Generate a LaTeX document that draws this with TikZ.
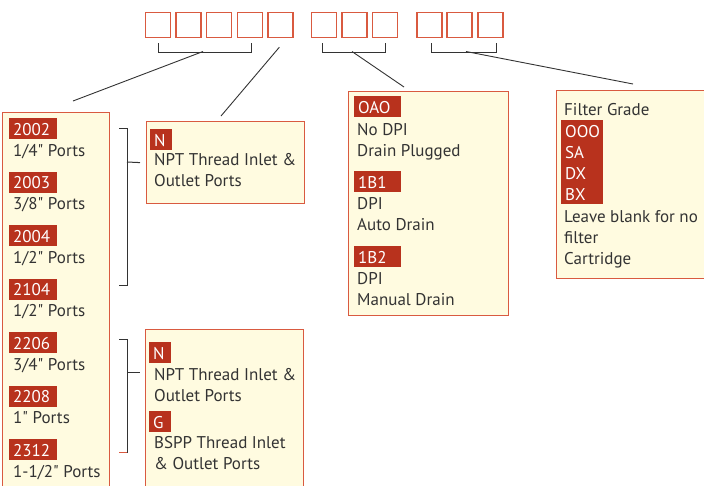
\documentclass[tikz,border=0pt]{standalone}
\usepackage{fontspec}
\newfontfamily\labelfont{PT Sans}
\definecolor{codered}{HTML}{B8321D}
\definecolor{frame}{HTML}{D95A40}
\definecolor{paper}{HTML}{FFFBE0}
\definecolor{ink}{HTML}{333333}

\begin{document}
\begin{tikzpicture}[x=1pt, y=-1pt, font=\labelfont\fontsize{17}{21}\selectfont, text=ink,
        cell/.style={draw=frame, line width=1.3pt, minimum size=25pt, inner sep=0pt},
        panel/.style={draw=frame, fill=paper, line width=1.2pt, anchor=north west, inner sep=0pt},
        code/.style={fill=codered, text=white, anchor=base west, inner xsep=4pt, inner ysep=0pt,
            text height=17pt, text depth=4pt, text width=#1, align=left},
        code/.default=40pt,
        txt/.style={anchor=base west, inner sep=0pt, align=left},
        brace/.style={draw=ink, line width=1pt},
        link/.style={draw=ink, line width=0.9pt}]
    \useasboundingbox (0,0) rectangle (704,485);
    \foreach \x [count=\i] in {158,188.6,219.2,249.8,280.4,324,354.5,385,429.5,459.5,490.5}
        \node[cell] (c\i) at (\x,25) {};
    \draw[brace] ([yshift=-5pt]c1.south) -- ++(0,9) -| ([xshift=2pt,yshift=-5pt]c4.south);
    \draw[brace] ([xshift=-2pt,yshift=-5pt]c6.south) -- ++(0,9) -| ([yshift=-5pt]c8.south);
    \draw[brace] ([xshift=1.5pt,yshift=-5pt]c9.south) -- ++(0,9) -| ([xshift=6pt,yshift=-5pt]c11.south);
    \coordinate (g1) at (203,51.5);
    \coordinate (g2) at (352,51.5);
    \coordinate (g3) at (466,51.5);
    \coordinate (e1) at (73,101);
    \coordinate (e2) at (221,116);
    \coordinate (e3) at (404,87);
    \coordinate (e4) at (633,84);
    \draw[link] (g1) -- (e1);
    \draw[link] ([xshift=-1pt,yshift=-9pt]c5.south) -- (e2);
    \draw[link] (g2) -- (e3);
    \draw[link] (g3) -- (e4);

    \node[panel, minimum width=107pt, minimum height=380pt] (sizes) at (2,112) {};
    \node[panel, minimum width=158pt, minimum height=82pt] (nptA) at (146,121) {};
    \node[panel, minimum width=158pt, minimum height=170pt] (nptB) at (145,329) {};
    \node[panel, minimum width=160pt, minimum height=224pt] (drain) at (348,91) {};
    \node[panel, minimum width=160pt, minimum height=188pt] (filter) at (556,90) {};

    \foreach \c/\t [count=\i] in {2002/{1/4" Ports}, 2003/{3/8" Ports}, 2004/{1/2" Ports},
            2104/{1/2" Ports}, 2206/{3/4" Ports}, 2208/{1" Ports}, 2312/{1-1/2" Ports}} {
        \node[code] (s\i) at (9,81.5+53.5*\i) {\c};
        \node[txt] (p\i) at (13,102.5+53.5*\i) {\t};
    }

    \draw[brace] (119,128) -| (127,285) -- (119,285);
    \draw[brace] (127,162) -- ([xshift=-6pt]nptA.west);
    \draw[brace] (119,339) -| (127,452) -- (119,452);
    \draw[frame, line width=1pt] (119,452) -- (126.5,452);
    \coordinate (t2) at (140,372);
    \draw[brace] (127,372) -- (t2);

    \node[code=14pt] (na) at (150,146) {N};
    \node[txt] (nat) at (154,186) {NPT Thread Inlet \&\\Outlet Ports};
    \node[code=14pt] (nb) at (149,359) {N};
    \node[txt] (nbt) at (154,401) {NPT Thread Inlet \&\\Outlet Ports};
    \node[code=14pt] (gb) at (149,428) {G};
    \node[txt] (gbt) at (154,469) {BSPP Thread Inlet\\\& Outlet Ports};

    \node[code=39pt] (d1) at (354,113) {OAO};
    \node[txt] (d1t) at (357,156) {No DPI\\Drain Plugged};
    \node[code=39pt] (d2) at (354,188) {1B1};
    \node[txt] (d2t) at (357,230) {DPI\\Auto Drain};
    \node[code=39pt] (d3) at (354,263) {1B2};
    \node[txt] (d3t) at (357,305) {DPI\\Manual Drain};

    \node[txt] (fg) at (564,115) {Filter Grade};
    \foreach \c [count=\i] in {OOO,SA,DX,BX}
        \node[code=34pt] (f\i) at (561,116+21*\i) {\c};
    \node[txt] (fb) at (564,264) {Leave blank for no\\filter\\Cartridge};
\end{tikzpicture}
\end{document}
